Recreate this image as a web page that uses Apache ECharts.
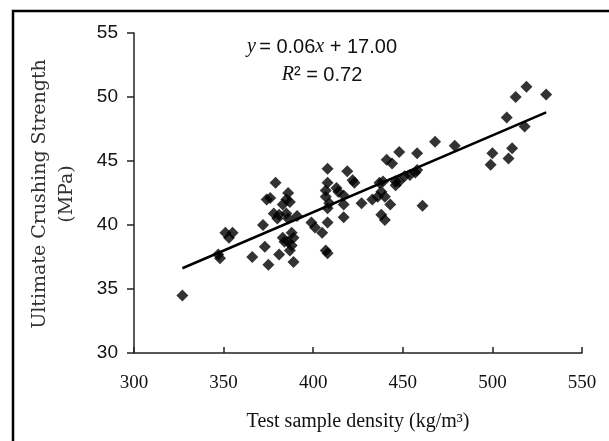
<!DOCTYPE html>
<html><head><meta charset="utf-8">
<script src="https://cdn.jsdelivr.net/npm/echarts@6/dist/echarts.min.js"></script>
<style>html,body{margin:0;padding:0;background:#fff}#c{width:609px;height:441px}</style>
</head><body><div id="c"></div>
<script>
var densities = [327,347,348,351,353,355,366,372,373,374,375,376,378,379,380,381,381,383,383,384,385,385,386,386,386,387,387,388,388,389,389,391,399,401,405,407,407,408,408,408,408,408,407,409,413,414,417,417,417,419,422,423,427,433,436,437,438,438,439,440,440,441,443,444,446,446,448,448,451,454,457,458,458,461,468,479,499,500,508,509,511,513,518,519,530];
var strengths = [34.5,37.7,37.4,39.4,39.0,39.4,37.5,40.0,38.3,42.0,36.9,42.1,40.9,43.3,40.5,37.7,40.8,41.6,39.0,38.7,42.0,40.9,42.5,38.7,40.5,41.8,38.0,39.4,38.4,39.0,37.1,40.7,40.2,39.8,39.4,42.7,42.2,44.4,43.3,41.3,40.2,37.8,38.0,41.7,42.9,42.6,42.3,41.6,40.6,44.2,43.5,43.3,41.7,42.0,42.2,43.3,42.6,40.8,43.4,42.2,40.4,45.1,41.6,44.8,43.4,43.1,43.4,45.7,43.8,43.9,44.1,44.3,45.6,41.5,46.5,46.2,44.7,45.6,48.4,45.2,46.0,50.0,47.7,50.8,50.2];
var trendX = [327, 530];
var slope = 0.06, intercept = 17.00;
var xTicks = [300,350,400,450,500,550];
var yTicks = [30,35,40,45,50,55];

var pts = densities.map(function(d,i){return [d, strengths[i]];});
var trend = trendX.map(function(x){return [x, +(slope*x+intercept).toFixed(3)];});

var chart = echarts.init(document.getElementById('c'), null, {renderer:'canvas'});
var serifF = '"Liberation Serif",serif';
var richEq = {i:{fontStyle:'italic', fontSize:20, fontFamily:serifF, fill:'#111'}, n:{fontSize:20, fontFamily:'"Liberation Sans",sans-serif', fill:'#111'}};
chart.setOption({
  backgroundColor:'#fff',
  animation:false,
  grid:{left:134, right:27, top:33, bottom:88, containLabel:false},
  xAxis:{type:'value', min:xTicks[0], max:xTicks[xTicks.length-1], interval:50,
    axisLine:{onZero:false, lineStyle:{color:'#222', width:1.5}},
    axisTick:{inside:true, length:6, lineStyle:{color:'#222', width:1.5}},
    splitLine:{show:false},
    axisLabel:{color:'#111', fontFamily:serifF, fontSize:19, margin:21},
    name:'Test sample density (kg/m³)', nameLocation:'middle', nameGap:59,
    nameTextStyle:{color:'#111', fontFamily:serifF, fontSize:20}
  },
  yAxis:{type:'value', min:yTicks[0], max:yTicks[yTicks.length-1], interval:5,
    axisLine:{show:true, lineStyle:{color:'#222', width:1.5}},
    axisTick:{show:true, inside:false, length:7, lineStyle:{color:'#222', width:1.5}},
    splitLine:{show:false},
    axisLabel:{color:'#111', fontFamily:'"Liberation Sans",Arial,sans-serif', fontSize:19, margin:16}
  },
  graphic:[
    {type:'rect', shape:{x:13, y:11, width:700, height:500}, style:{fill:null, stroke:'#000', lineWidth:2.5}, z:0, silent:true},
    {type:'text', x:40, y:194, rotation:Math.PI/2, style:{text:'Ultimate Crushing Strength', font:'19px "DejaVu Serif",serif', fill:'#333', textAlign:'center', textVerticalAlign:'middle'}},
    {type:'text', x:67, y:194, rotation:Math.PI/2, style:{text:'(MPa)', font:'19px "DejaVu Serif",serif', fill:'#333', textAlign:'center', textVerticalAlign:'middle'}},
    {type:'text', x:322, y:47, style:{rich:richEq, text:'{i|y} {n|= 0.06}{i|x}{n| + 17.00}', textAlign:'center', textVerticalAlign:'middle'}},
    {type:'text', x:322, y:75, style:{rich:richEq, text:'{i|R}{n|² = 0.72}', textAlign:'center', textVerticalAlign:'middle'}}
  ],
  series:[
    {type:'scatter', data:pts, symbol:'diamond', symbolSize:12, itemStyle:{color:'#000'}, z:3},
    {type:'line', data:trend, symbol:'none', lineStyle:{color:'#000', width:2.5}, z:4}
  ]
});
</script></body></html>
